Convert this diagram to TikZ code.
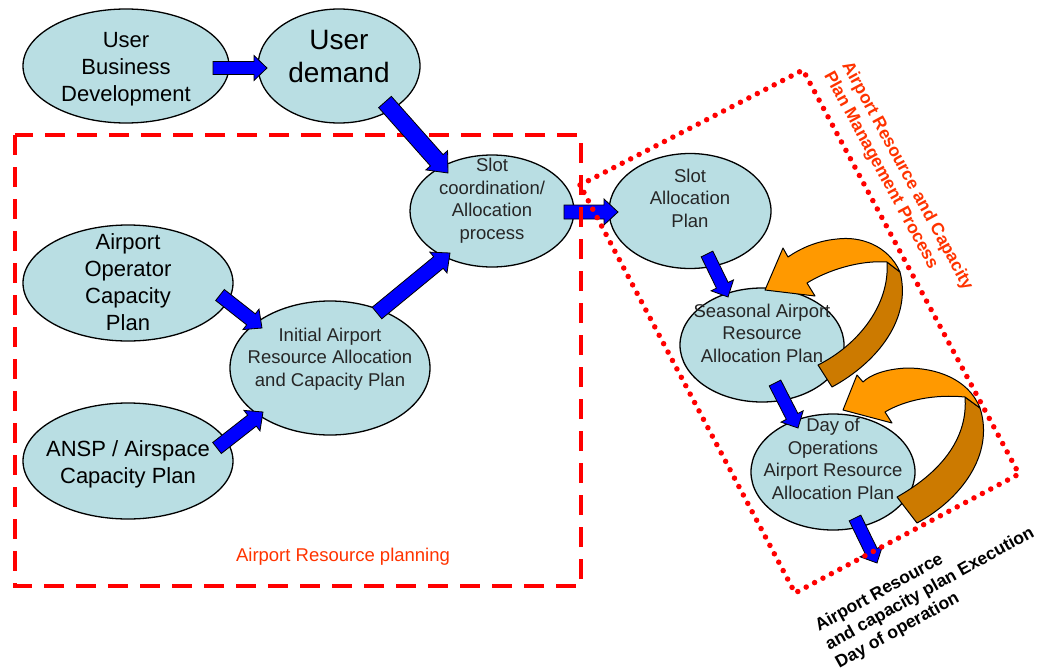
\documentclass[tikz,border=0pt]{standalone}
\usepackage{fontspec}
\setmainfont{Liberation Sans}
\usetikzlibrary{shapes.geometric,calc}

\definecolor{ellfill}{RGB}{185,222,227}
\definecolor{arrblue}{RGB}{0,0,255}
\definecolor{orfront}{RGB}{255,153,0}
\definecolor{orback}{RGB}{204,122,0}
\definecolor{lblred}{RGB}{255,51,0}
\definecolor{boxred}{RGB}{255,0,0}

% multi-line label of zero size, lifted by #1 inside its ellipse
\newcommand{\ml}[2]{\raisebox{#1}[0pt][0pt]{\makebox[0pt]{\begin{tabular}{@{}c@{}}#2\end{tabular}}}}

% thick blue block arrow from #2 to #3, shaft half-width #1 (pt)
\newcommand{\blockarrow}[3][7]{%
  \pgfmathsetlengthmacro\baw{#1pt}%
  \pgfmathsetlengthmacro\bah{#1pt+6pt}%
  \pgfmathsetlengthmacro\bal{2*#1pt}%
  \coordinate (ba-s) at #2;
  \coordinate (ba-e) at #3;
  \coordinate (ba-h) at ($(ba-e)!\bal!(ba-s)$);
  \filldraw[blockarrow]
    ($(ba-s)!\baw!90:(ba-e)$) -- ($(ba-h)!\baw!-90:(ba-s)$)
    -- ($(ba-h)!\bah!-90:(ba-s)$) -- (ba-e)
    -- ($(ba-h)!\bah!90:(ba-s)$) -- ($(ba-h)!\baw!90:(ba-s)$)
    -- ($(ba-s)!\baw!-90:(ba-e)$) -- cycle;
}

\tikzset{
  bubble/.style={ellipse, draw=black, line width=1.3pt, fill=ellfill,
    inner sep=0pt, text=black},
  bigtxt/.style={font=\fontsize{22}{27}\selectfont},
  hugetxt/.style={font=\fontsize{28}{33}\selectfont},
  smalltxt/.style={font=\fontsize{18.5}{22.5}\selectfont, text=black!85},
  blockarrow/.style={fill=arrblue, draw=black, line width=0.8pt, line join=miter},
  planbox/.style={draw=boxred, line width=4.5pt, dash pattern=on 20pt off 12pt},
  mgmtbox/.style={draw=boxred, line width=5.5pt, line cap=round,
    dash pattern=on 0pt off 9.5pt},
  loopfront/.style={fill=orfront, draw=black, line width=1pt, line join=round},
  loopback/.style={fill=orback, draw=black, line width=1pt, line join=round},
  redlabel/.style={text=lblred, font=\fontsize{18.5}{22}\selectfont},
}

\begin{document}
\begin{tikzpicture}[x=1pt, y=-1pt]
\path[use as bounding box] (0,0) rectangle (1037,670);

% ---- process bubbles ----
\node[bubble, bigtxt, minimum width=206pt, minimum height=114pt] (ubd) at (126,66)
  {\ml{-8pt}{User\\Business\\Development}};
\node[bubble, hugetxt, minimum width=162pt, minimum height=114pt] (ud) at (339,66)
  {\ml{0pt}{User\\demand}};
\node[bubble, smalltxt, minimum width=164pt, minimum height=112pt] (slotc) at (492,211)
  {\ml{5.5pt}{Slot\\coordination/\\Allocation\\process}};
\node[bubble, bigtxt, minimum width=210pt, minimum height=116pt] (aop) at (128,283)
  {\ml{-7pt}{Airport\\Operator\\Capacity\\Plan}};
\node[bubble, smalltxt, minimum width=200pt, minimum height=134pt] (init) at (330,368)
  {\ml{4.5pt}{Initial Airport\\Resource Allocation\\and Capacity Plan}};
\node[bubble, bigtxt, minimum width=210pt, minimum height=116pt] (ansp) at (128,461)
  {\ml{-9pt}{ANSP / Airspace\\Capacity Plan}};
\node[bubble, smalltxt, minimum width=162pt, minimum height=115pt] (sap) at (690,211)
  {\ml{6.5pt}{Slot\\Allocation\\Plan}};
\node[bubble, smalltxt, minimum width=164pt, minimum height=114pt] (sea) at (762,345)
  {\ml{5.5pt}{Seasonal Airport\\Resource\\Allocation Plan}};
\node[bubble, smalltxt, minimum width=164pt, minimum height=116pt] (day) at (833,472)
  {\ml{6.5pt}{Day of\\Operations\\Airport Resource\\Allocation Plan}};

% ---- hand-over to slot allocation (under the frame lines) ----
\blockarrow{($(slotc.center)+(72,1)$)}{($(sap.center)+(-72,1)$)}

% ---- planning frame ----
\draw[planbox] (15,135) rectangle (581,586);
\node[redlabel] (plantitle) at (343,557) {Airport Resource planning};

% ---- flow arrows ----
\blockarrow[6.5]{($(ubd.center)+(87,2)$)}{($(ud.center)+(-72,2)$)}
\blockarrow[8.5]{($(ud.center)+(46,36)$)}{($(slotc.center)+(-44,-38)$)}
\blockarrow{($(aop.center)+(92,12)$)}{($(init.center)+(-68,-40)$)}
\blockarrow{($(ansp.center)+(89,-13)$)}{($(init.center)+(-67,44)$)}
\blockarrow[7.5]{($(init.center)+(47,-55)$)}{($(slotc.center)+(-42,42)$)}
\blockarrow[6.5]{($(sap.center)+(17,43)$)}{($(sea.center)+(-34,-48)$)}
\blockarrow[6.5]{($(sea.center)+(13,38)$)}{($(day.center)+(-35,-44)$)}
\coordinate (exec) at (877,563);
\blockarrow[6.5]{($(day.center)+(22,46)$)}{(exec)}

% ---- feedback loop on the seasonal plan ----
\filldraw[loopback] (887,262) .. controls (890,305) and (858,345) .. (818,365)
  -- (832,387) .. controls (878,362) and (912,318) .. (900,272) -- cycle;
\filldraw[loopfront] (900,272) .. controls (888,245) and (860,236) .. (837,239)
  .. controls (815,241) and (798,250) .. (788,257) -- (783,248) -- (765,290)
  -- (815,296) -- (807,283) .. controls (828,270) and (860,260) .. (887,262) -- cycle;

% ---- feedback loop on the day-of-operations plan ----
\filldraw[loopback] (965,397) .. controls (968,435) and (945,470) .. (897,497)
  -- (917,523) .. controls (960,500) and (995,455) .. (980,408) -- cycle;
\filldraw[loopfront] (980,408) .. controls (968,378) and (935,368) .. (907,368)
  .. controls (885,369) and (870,375) .. (863,382) -- (857,375) -- (843,410)
  -- (892,423) -- (885,412) .. controls (905,400) and (935,394) .. (965,397) -- cycle;

% ---- management frame ----
\draw[mgmtbox] (580,185) -- (803,70) -- (1019,474) -- (795,593) -- cycle;
\node[text=lblred, font=\bfseries\fontsize{17.5}{20.5}\selectfont, align=left,
  rotate=-61.5] (mgmttitle) at (898,181)
  {Airport Resource and Capacity\\Plan Management Process};

% ---- execution output ----
\node[font=\bfseries\fontsize{17.5}{21}\selectfont, align=left, rotate=29]
  (exectitle) at (930,589)
  {Airport Resource\\and capacity plan Execution\\Day of operation};
\end{tikzpicture}
\end{document}
